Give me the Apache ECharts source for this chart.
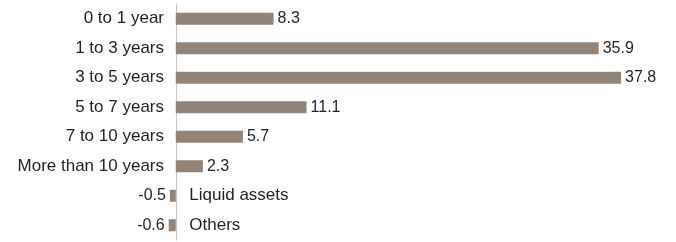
<!DOCTYPE html>
<html>
<head>
<meta charset="utf-8">
<script src="https://cdn.jsdelivr.net/npm/echarts@6/dist/echarts.min.js"></script>
<style>
  html, body { margin: 0; padding: 0; background: #fff; }
  #chart { width: 676px; height: 242px; }
</style>
</head>
<body>
<div id="chart"></div>
<script>
// categories, top to bottom
const categories = [
  "0 to 1 year",
  "1 to 3 years",
  "3 to 5 years",
  "5 to 7 years",
  "7 to 10 years",
  "More than 10 years",
  "Liquid assets",
  "Others",
];
const values = [8.3, 35.9, 37.8, 11.1, 5.7, 2.3, -0.5, -0.6];

const barColor = "#928479";
const textColor = "#231f20";
const font = "'Liberation Sans', Arial, sans-serif";

const chart = echarts.init(document.getElementById("chart"));

// negative rows get their name on the right of the axis
const negNames = categories
  .map((c, i) => (values[i] < 0 ? [0, c] : null))
  .filter((d) => d);

const option = {
  animation: false,
  grid: { left: 164, right: 29, top: 4, bottom: 2 },
  xAxis: {
    type: "value",
    min: -1,
    max: 40,
    show: false,
  },
  yAxis: {
    type: "category",
    data: categories,
    inverse: true,
    axisLine: { onZero: true, lineStyle: { color: "#c6c6c6", width: 1 } },
    axisTick: { show: false },
    axisLabel: {
      margin: 0,
      color: textColor,
      fontFamily: font,
      fontSize: 17,
      formatter: (v, i) => (values[i] < 0 ? "" : v),
    },
  },
  series: [
    {
      type: "bar",
      barWidth: 12,
      itemStyle: { color: barColor },
      data: values.map((v) => ({
        value: v,
        label: { position: v < 0 ? "left" : "right" },
      })),
      label: {
        show: true,
        distance: 4,
        color: textColor,
        fontFamily: font,
        fontSize: 16,
      },
    },
    {
      type: "scatter",
      symbolSize: 1,
      itemStyle: { color: "rgba(0,0,0,0)", opacity: 1 },
      data: negNames,
      label: {
        show: true,
        position: "right",
        distance: 13,
        formatter: (p) => p.value[1],
        color: textColor,
        fontFamily: font,
        fontSize: 17,
      },
    },
  ],
};

chart.setOption(option);
</script>
</body>
</html>
